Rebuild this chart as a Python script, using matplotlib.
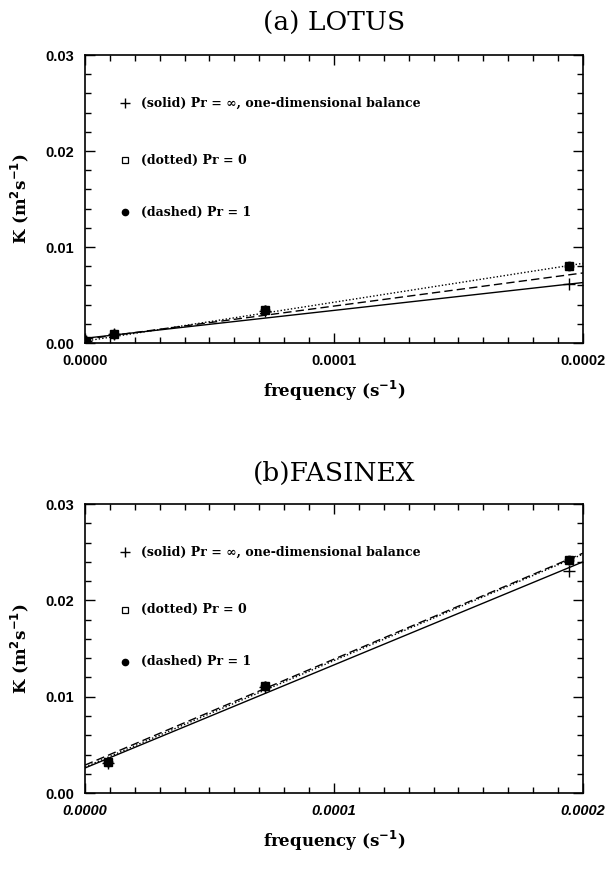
import matplotlib
matplotlib.use('Agg')
import matplotlib.pyplot as plt
from matplotlib.ticker import MultipleLocator, FormatStrFormatter

# --- data ---
panel_titles = ['(a) LOTUS', '(b)FASINEX']

# observed points (frequency in s^-1, K in m^2 s^-1)
lotus_freq = [0.0000005, 0.0000115, 0.0000722, 0.0001944]
lotus_k_inf = [0.0002, 0.0009, 0.0033, 0.0061]
lotus_k_pr0 = [0.0002, 0.0009, 0.0034, 0.0080]
lotus_k_pr1 = [0.0002, 0.0009, 0.0034, 0.0080]

fasinex_freq = [0.0000093, 0.0000722, 0.0001944]
fasinex_k_inf = [0.0031, 0.0110, 0.0231]
fasinex_k_pr0 = [0.0032, 0.0111, 0.0242]
fasinex_k_pr1 = [0.0032, 0.0111, 0.0242]

# fitted lines, evaluated at the ends of the axis
fit_freq = [0.0, 0.0002]
lotus_fit_inf = [0.0005, 0.0063]
lotus_fit_pr0 = [0.0002, 0.0083]
lotus_fit_pr1 = [0.0004, 0.0073]
fasinex_fit_inf = [0.0026, 0.0240]
fasinex_fit_pr0 = [0.0027, 0.0248]
fasinex_fit_pr1 = [0.0029, 0.0249]

legend_labels = ['(solid) Pr = \u221e, one-dimensional balance',
                 '(dotted) Pr = 0',
                 '(dashed) Pr = 1']

serif = ['DejaVu Serif']
sans = ['Liberation Sans', 'DejaVu Sans']

fig = plt.figure(figsize=(6.08, 8.76), dpi=100)
ax_a = fig.add_axes([0.1398, 0.6084, 0.819, 0.3288])
ax_b = fig.add_axes([0.1398, 0.0947, 0.819, 0.3299])

panels = [
    (ax_a, lotus_freq, lotus_k_inf, lotus_k_pr0, lotus_k_pr1,
     lotus_fit_inf, lotus_fit_pr0, lotus_fit_pr1, 'normal'),
    (ax_b, fasinex_freq, fasinex_k_inf, fasinex_k_pr0, fasinex_k_pr1,
     fasinex_fit_inf, fasinex_fit_pr0, fasinex_fit_pr1, 'italic'),
]

for i, (ax, fx, k_inf, k0, k1, f_inf, f0, f1, xstyle) in enumerate(panels):
    # fits
    ax.plot(fit_freq, f_inf, color='k', linestyle='-', lw=1.0)
    ax.plot(fit_freq, f0, color='k', linestyle=(0, (1, 1.5)), lw=1.0)
    ax.plot(fit_freq, f1, color='k', linestyle=(0, (6, 3)), lw=1.0)
    # points
    ax.plot(fx, k_inf, 'k+', ms=8, mew=1.0)
    ax.plot(fx, k0, 's', mfc='none', mec='k', ms=6, mew=1.0)
    ax.plot(fx, k1, 'o', color='k', ms=6)

    ax.set_xlim(0, 0.0002)
    ax.set_ylim(0, 0.03)
    ax.xaxis.set_major_locator(MultipleLocator(0.0001))
    ax.xaxis.set_minor_locator(MultipleLocator(0.00001))
    ax.yaxis.set_major_locator(MultipleLocator(0.01))
    ax.yaxis.set_minor_locator(MultipleLocator(0.002))
    ax.xaxis.set_major_formatter(FormatStrFormatter('%.4f'))
    ax.yaxis.set_major_formatter(FormatStrFormatter('%.2f'))
    ax.tick_params(which='both', direction='in', top=True, right=True, width=1.0)
    ax.tick_params(which='major', length=7, pad=8)
    ax.tick_params(which='minor', length=4)
    for sp in ax.spines.values():
        sp.set_linewidth(1.2)
    for lab in ax.get_xticklabels():
        lab.set_family(sans)
        lab.set_weight('bold')
        lab.set_style(xstyle)
        lab.set_fontsize(10.5)
    for lab in ax.get_yticklabels():
        lab.set_family(sans)
        lab.set_weight('bold')
        lab.set_fontsize(10.5)

    ax.set_title(panel_titles[i], family=serif, fontsize=19, pad=17)
    ax.set_xlabel('frequency (s$^{\\mathbf{-1}}$)', family=serif, fontsize=12,
                  fontweight='bold', labelpad=8)
    ax.set_ylabel('K (m$^{\\mathbf{2}}$s$^{\\mathbf{-1}}$)', family=serif,
                  fontsize=12, fontweight='bold', labelpad=10)

    # hand-made legend inside the axes
    syms = ['+', 's', 'o']
    ys = [0.833, 0.635, 0.455]
    for sym, y, label in zip(syms, ys, legend_labels):
        if sym == 's':
            ax.plot([0.08], [y], sym, mfc='none', mec='k', ms=5, mew=0.9,
                    transform=ax.transAxes)
        elif sym == 'o':
            ax.plot([0.08], [y], sym, color='k', ms=4.5, transform=ax.transAxes)
        else:
            ax.plot([0.08], [y], sym, color='k', ms=7, mew=1.0,
                    transform=ax.transAxes)
        ax.text(0.112, y, label, transform=ax.transAxes, va='center',
                ha='left', family=serif, fontsize=9, fontweight='bold')

fig.savefig('out.png', dpi=100)
